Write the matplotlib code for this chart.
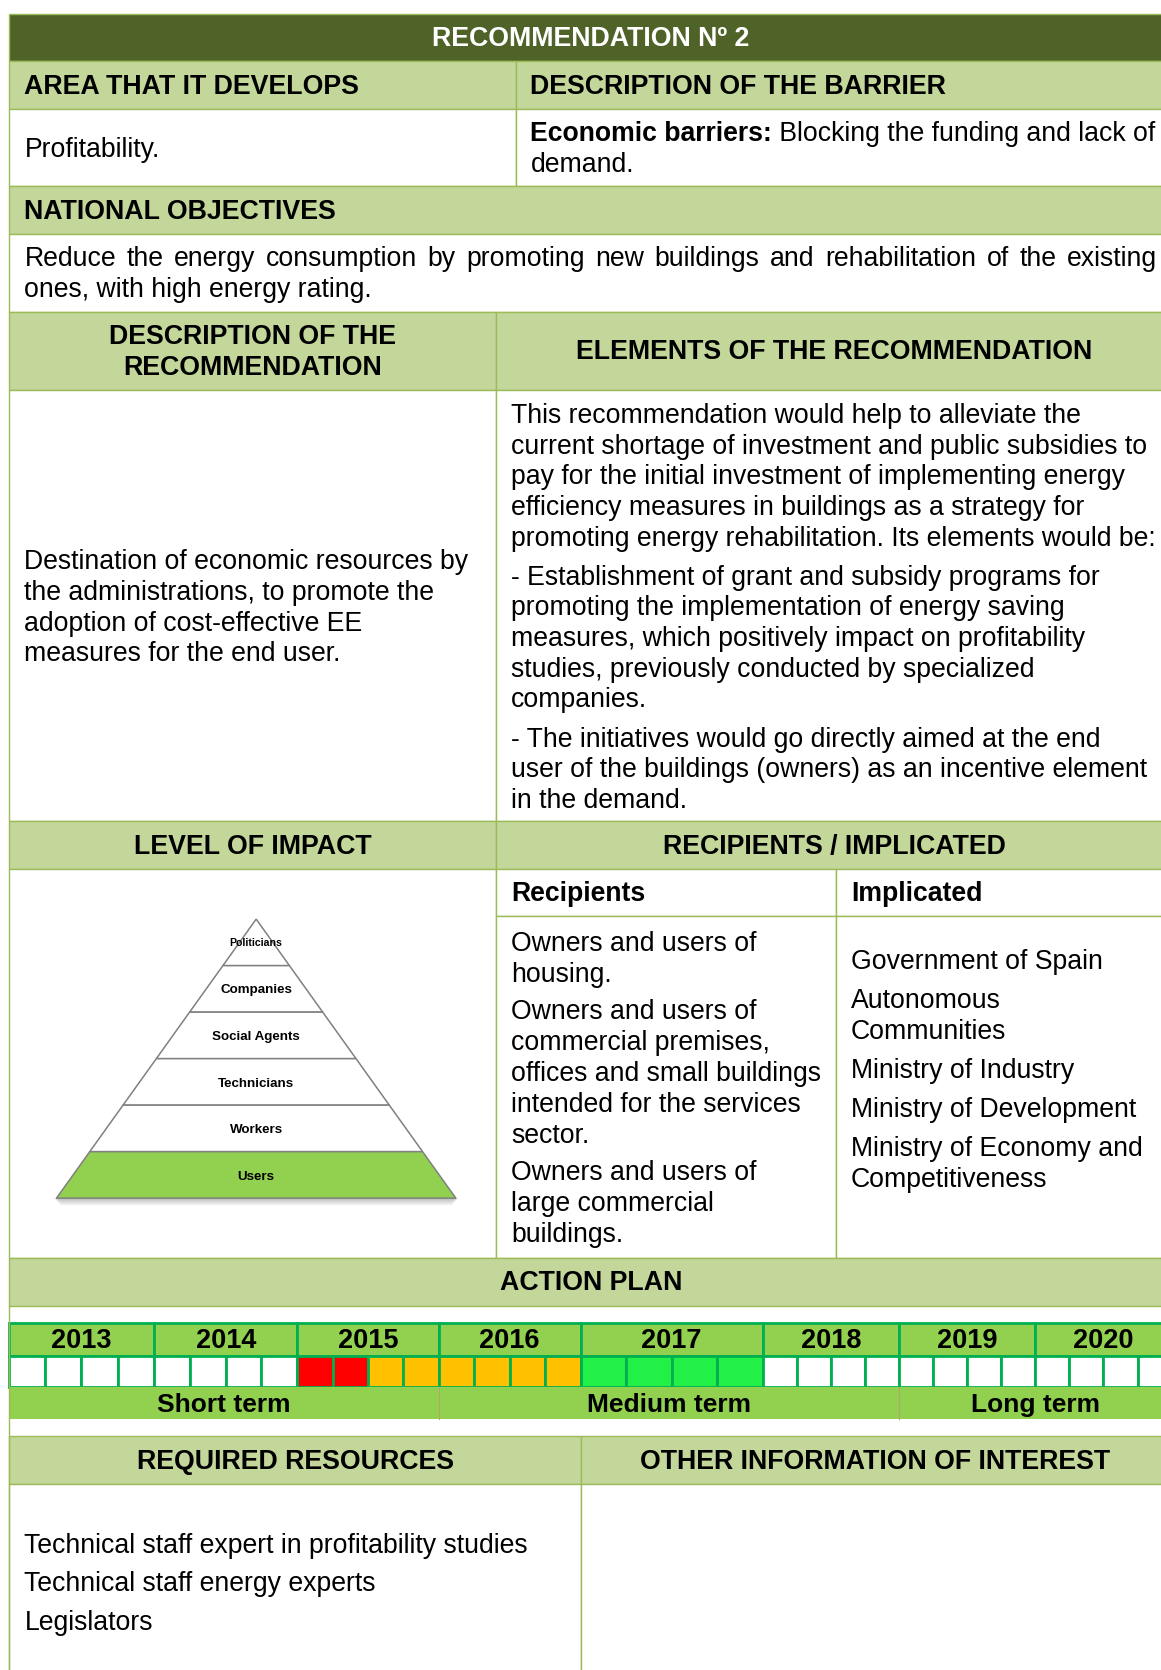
import matplotlib
matplotlib.use("Agg")
import matplotlib.pyplot as plt
from matplotlib.patches import Rectangle, Polygon

plt.rcParams['font.family'] = ['Liberation Sans', 'DejaVu Sans']

# ---- content ----
title = "RECOMMENDATION Nº 2"
area_head = "AREA THAT IT DEVELOPS"
barrier_head = "DESCRIPTION OF THE BARRIER"
area_text = "Profitability."
barrier_bold = "Economic barriers:"
barrier_lines = [" Blocking the funding and lack of", "demand."]
objectives_head = "NATIONAL OBJECTIVES"
objectives_lines = ["Reduce the energy consumption by promoting new buildings and rehabilitation of the existing",
                    "ones, with high energy rating."]
desc_head = ["DESCRIPTION OF THE", "RECOMMENDATION"]
elements_head = "ELEMENTS OF THE RECOMMENDATION"
desc_lines = ["Destination of economic resources by",
              "the administrations, to promote the",
              "adoption of cost-effective EE",
              "measures for the end user."]
elements_paras = [
    ["This recommendation would help to alleviate the",
     "current shortage of investment and public subsidies to",
     "pay for the initial investment of implementing energy",
     "efficiency measures in buildings as a strategy for",
     "promoting energy rehabilitation. Its elements would be:"],
    ["- Establishment of grant and subsidy programs for",
     "promoting the implementation of energy saving",
     "measures, which positively impact on profitability",
     "studies, previously conducted by specialized",
     "companies."],
    ["- The initiatives would go directly aimed at the end",
     "user of the buildings (owners) as an incentive element",
     "in the demand."],
]
impact_head = "LEVEL OF IMPACT"
recip_head = "RECIPIENTS / IMPLICATED"
pyramid_levels = ["Politicians", "Companies", "Social Agents", "Technicians", "Workers", "Users"]
impact_levels = ["Users"]
recipients = [["Owners and users of", "housing."],
              ["Owners and users of", "commercial premises,", "offices and small buildings",
               "intended for the services", "sector."],
              ["Owners and users of", "large commercial", "buildings."]]
implicated = [["Government of Spain"], ["Autonomous", "Communities"], ["Ministry of Industry"],
              ["Ministry of Development"], ["Ministry of Economy and", "Competitiveness"]]
plan_head = "ACTION PLAN"
years = ["2013", "2014", "2015", "2016", "2017", "2018", "2019", "2020"]
# status of each quarter: 0 none, 1 red, 2 orange, 3 green
quarter_status = [0, 0, 0, 0,  0, 0, 0, 0,  1, 1, 2, 2,  2, 2, 2, 2,
                  3, 3, 3, 3,  0, 0, 0, 0,  0, 0, 0, 0,  0, 0, 0, 0]
terms = ["Short term", "Medium term", "Long term"]
resources_head = "REQUIRED RESOURCES"
other_head = "OTHER INFORMATION OF INTEREST"
resources = ["Technical staff expert in profitability studies",
             "Technical staff energy experts",
             "Legislators"]

# ---- layout (reference pixel grid 1090 x 1568) ----
W, H = 1090, 1568
L, R = 8, 1092
year_edges = [8, 145, 279, 412, 545, 716, 844, 972, 1100]
term_edges = [8, 412, 844, 1100]

DARK = "#4F6228"
LIGHT = "#C4D79B"
EDGE = "#9BBB59"
BRIGHT = "#92D050"
YEDGE = "#00B050"
status_colors = {0: "white", 1: "#FF0000", 2: "#FFC000", 3: "#22F046"}

FS = 19.2
HFS = 19.3

fig = plt.figure(figsize=(11.61, 16.70), dpi=100)
ax = fig.add_axes([0, 0, 1, 1])
ax.set_xlim(0, W)
ax.set_ylim(H, 0)
ax.axis("off")
renderer = fig.canvas.get_renderer()
px2data = W / 1161.0


def cell(x0, y0, x1, y1, fc, ec=EDGE, lw=1.0):
    ax.add_patch(Rectangle((x0, y0), x1 - x0, y1 - y0, facecolor=fc, edgecolor=ec, lw=lw))


def txt(x, y, s, **kw):
    kw.setdefault("fontsize", FS)
    kw.setdefault("va", "center")
    # va=center counts descenders, nudge down a bit to match the reference
    return ax.text(x, y + 1.5, s, **kw)


def width_of(t):
    return t.get_window_extent(renderer).width * px2data


def justified(x0, x1, y, line, **kw):
    words = line.split()
    parts = [txt(0, y, w, **kw) for w in words]
    widths = [width_of(p) for p in parts]
    gap = (x1 - x0 - sum(widths)) / (len(words) - 1)
    x = x0
    for p, w in zip(parts, widths):
        p.set_x(x)
        x += w + gap


# header rows
cell(L, 13, R, 57, DARK)
txt(555, 35, title, color="white", fontweight="bold", ha="center", fontsize=HFS)
cell(L, 57, 484, 102, LIGHT)
cell(484, 57, R, 102, LIGHT)
txt(23, 80, area_head, fontweight="bold", fontsize=HFS)
txt(498, 80, barrier_head, fontweight="bold", fontsize=HFS)
cell(L, 102, 484, 175, "white")
cell(484, 102, R, 175, "white")
txt(23, 139, area_text)
b = txt(498, 124, barrier_bold, fontweight="bold")
txt(498 + width_of(b), 124, barrier_lines[0])
txt(498, 153, barrier_lines[1])

cell(L, 175, R, 220, LIGHT)
txt(23, 198, objectives_head, fontweight="bold", fontsize=HFS)
cell(L, 220, R, 293, "white")
justified(23, 1086, 242, objectives_lines[0])
txt(23, 271, objectives_lines[1])

cell(L, 293, 466, 366, LIGHT)
cell(466, 293, R, 366, LIGHT)
txt(237, 315, desc_head[0], fontweight="bold", ha="center", fontsize=HFS)
txt(237, 344, desc_head[1], fontweight="bold", ha="center", fontsize=HFS)
txt(783, 329, elements_head, fontweight="bold", ha="center", fontsize=HFS)

cell(L, 366, 466, 771, "white")
cell(466, 366, R, 771, "white")
y = 526
for line in desc_lines:
    txt(23, y, line)
    y += 29
y = 389
for para in elements_paras:
    for line in para:
        txt(480, y, line)
        y += 28.8
    y += 8

cell(L, 771, 466, 816, LIGHT)
cell(466, 771, R, 816, LIGHT)
txt(237, 794, impact_head, fontweight="bold", ha="center", fontsize=HFS)
txt(783, 794, recip_head, fontweight="bold", ha="center", fontsize=HFS)

# impact / recipients block
cell(L, 816, 466, 1181, "white")
cell(466, 816, 785, 860, "white")
cell(785, 816, R, 860, "white")
cell(466, 860, 785, 1181, "white")
cell(785, 860, R, 1181, "white")
txt(480, 838, "Recipients", fontweight="bold")
txt(799, 838, "Implicated", fontweight="bold")
y = 885
for group in recipients:
    for line in group:
        txt(480, y, line)
        y += 29
    y += 6
y = 902
for group in implicated:
    for line in group:
        txt(799, y, line)
        y += 29
    y += 7.5

# pyramid
apex_x, apex_y, base_y, half = 240.5, 863, 1125, 187.5
n = len(pyramid_levels)
step = (base_y - apex_y) / n
for k in range(4):
    off = 2 + k * 1.5
    ax.add_patch(Polygon([(apex_x - half - 2, base_y), (apex_x + half + 2, base_y),
                          (apex_x + half - 4, base_y + off), (apex_x - half + 4, base_y + off)],
                         closed=True, facecolor="#000000", alpha=0.06, lw=0))
for i, name in enumerate(pyramid_levels):
    yt = apex_y + i * step
    yb = yt + step
    wt = half * (yt - apex_y) / (base_y - apex_y)
    wb = half * (yb - apex_y) / (base_y - apex_y)
    fc = BRIGHT if name in impact_levels else "white"
    ax.add_patch(Polygon([(apex_x - wt, yt), (apex_x + wt, yt), (apex_x + wb, yb), (apex_x - wb, yb)],
                         closed=True, facecolor=fc, edgecolor="#808080", lw=1.1))
    fs = 7.6 if i == 0 else 9.6
    ty = yt + step * 0.5 if i > 0 else yt + step * 0.48
    txt(apex_x, ty, name, fontweight="bold", ha="center", fontsize=fs)

# action plan
cell(L, 1181, R, 1226, LIGHT)
txt(555, 1203, plan_head, fontweight="bold", ha="center", fontsize=HFS)
ax.plot([L, L], [1226, H + 5], color=EDGE, lw=1)

for i, yr in enumerate(years):
    x0, x1 = year_edges[i], year_edges[i + 1]
    cell(x0, 1242, x1, 1273, BRIGHT, ec=YEDGE, lw=2)
    txt((x0 + x1) / 2, 1258, yr, fontweight="bold", ha="center", fontsize=19.5)
    qw = (x1 - x0) / 4
    for q in range(4):
        st = quarter_status[i * 4 + q]
        cell(x0 + q * qw, 1273, x0 + (q + 1) * qw, 1302, status_colors[st], ec=YEDGE, lw=2)

for i, term in enumerate(terms):
    x0, x1 = term_edges[i], term_edges[i + 1]
    ax.add_patch(Rectangle((x0, 1302), x1 - x0, 30, facecolor=BRIGHT, edgecolor="none"))
    if i > 0:
        ax.plot([x0, x0], [1302, 1332], color="#B5A56A", lw=0.8)
term_centers = [210, 628, 972]
for c, term in zip(term_centers, terms):
    txt(c, 1318, term, fontweight="bold", ha="center", fontsize=19)

# resources
cell(L, 1348, 545, 1393, LIGHT)
cell(545, 1348, R, 1393, LIGHT)
txt(277, 1371, resources_head, fontweight="bold", ha="center", fontsize=HFS)
txt(822, 1371, other_head, fontweight="bold", ha="center", fontsize=HFS)
cell(L, 1393, 545, H + 10, "white")
cell(545, 1393, R, H + 10, "white")
y = 1450
for line in resources:
    txt(23, y, line)
    y += 36

fig.savefig("out.png", dpi=100)
